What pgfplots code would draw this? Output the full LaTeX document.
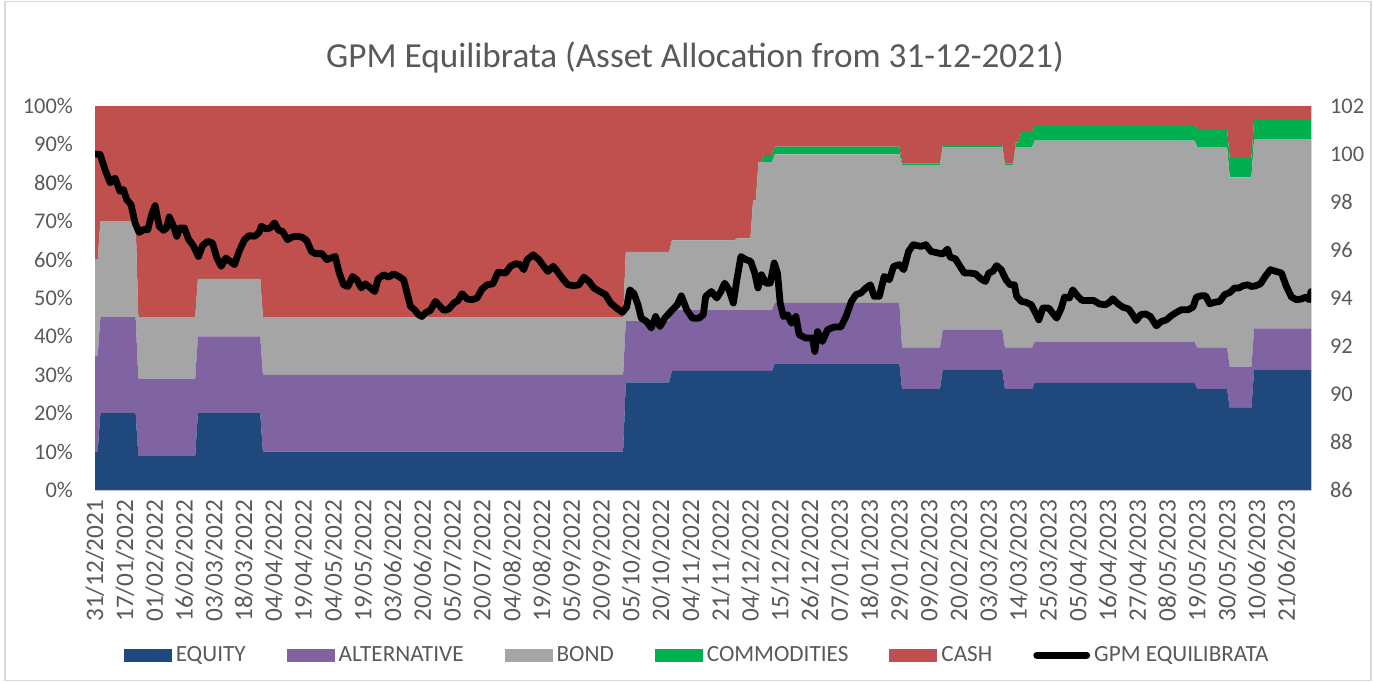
\documentclass[border=0pt]{standalone}
\usepackage{fontspec}
\setmainfont{Carlito}
\usepackage{pgfplots}
\usepackage{pgfplotstable}
\pgfplotsset{compat=1.18}
\definecolor{eqc}{RGB}{31,73,125}
\definecolor{altc}{RGB}{128,100,162}
\definecolor{bondc}{RGB}{165,165,165}
\definecolor{comc}{RGB}{0,176,80}
\definecolor{cashc}{RGB}{192,80,77}
\definecolor{txt}{RGB}{89,89,89}
\definecolor{axc}{RGB}{217,217,217}

\pgfplotstableread{
i eq alt bond com cash
0 10 25 25 0 40
1 10 25 25 0 40
2 20 25 25 0 30
15 20 25 25 0 30
16 9 20 16 0 55
37 9 20 16 0 55
38 20 20 15 0 45
61 20 20 15 0 45
62 10 20 15 0 55
195 10 20 15 0 55
196 28 16 18 0 38
212 28 16 18 0 38
213 31 16 18 0 35
236 31 16 18 0 35
237 31 16 18.5 0 34.5
242 31 16 18.5 0 34.5
243 31 16 28.5 0 24.5
244 31 16 28.5 0 24.5
245 31 16 38.4 0 14.6
246 31 16 38.4 0 14.6
247 31 16 38.4 1.8 12.8
250 31 16 38.4 1.8 12.8
251 33 15.7 38.7 2 10.6
297 33 15.7 38.7 2 10.6
298 26.3 10.7 47.6 0.4 15
312 26.3 10.7 47.6 0.4 15
313 31.3 10.4 47.6 0.5 10.2
335 31.3 10.4 47.6 0.5 10.2
336 26.3 10.7 47.6 0.4 15
339 26.3 10.7 47.6 0.4 15
340 26.3 10.7 52.3 1.2 9.5
341 26.3 10.7 52.3 1.2 9.5
342 26.3 10.7 52.3 3.9 6.8
346 26.3 10.7 52.3 3.9 6.8
347 27.9 10.7 52.4 4 5
406 27.9 10.7 52.4 4 5
407 26.3 10.7 52.3 4.7 6
418 26.3 10.7 52.3 4.7 6
419 21.4 10.7 49.3 5 13.6
427 21.4 10.7 49.3 5 13.6
428 31.25 10.85 49.3 5 3.6
449 31.25 10.85 49.3 5 3.6
}\alloc

\pgfplotstableread{
i v
0 100.0
1.9 99.98
3.7 99.35
5.6 98.80
7.4 99.00
9.2 98.45
10.5 98.52
11.7 98.10
13.3 97.89
14.8 97.13
16.3 96.73
17.9 96.85
19.5 96.85
20.9 97.47
22.2 97.85
23.7 96.99
25.3 96.82
26.5 96.92
27.4 97.38
29.0 96.99
30.2 96.57
31.4 96.92
33.0 96.92
34.5 96.46
36.3 96.18
38.2 95.73
39.7 96.18
41.6 96.36
43.4 96.29
45.0 95.67
46.6 95.32
48.3 95.67
49.9 95.53
51.5 95.39
53.2 95.94
55.2 96.43
56.9 96.60
58.9 96.57
60.6 96.73
61.4 96.99
63.1 96.88
64.7 96.92
66.3 97.13
67.8 96.82
69.2 96.78
71.1 96.43
72.7 96.54
74.5 96.57
76.4 96.54
78.2 96.39
79.9 95.94
81.3 95.85
83.8 95.85
85.6 95.60
87.3 95.67
88.7 95.73
90.2 95.04
91.8 94.55
93.4 94.48
95.1 94.90
96.7 94.76
98.3 94.42
99.8 94.59
101.7 94.42
103.3 94.27
104.5 94.79
106.6 94.97
108.4 94.87
110.3 95.01
112.1 94.90
114.0 94.76
115.2 94.21
116.5 93.65
118.0 93.51
119.5 93.30
120.7 93.23
122.2 93.40
123.8 93.48
125.7 93.86
127.2 93.68
128.8 93.48
130.6 93.54
132.5 93.79
134.1 93.90
135.5 94.18
137.4 93.96
139.2 93.93
141.1 94.00
142.9 94.37
144.8 94.55
146.9 94.59
148.8 95.07
151.6 95.04
153.4 95.32
155.3 95.43
157.1 95.39
158.3 95.18
159.6 95.60
161.8 95.80
163.9 95.60
165.7 95.32
167.2 95.11
169.2 95.32
170.7 95.11
172.5 94.83
174.6 94.55
176.8 94.51
178.7 94.55
180.5 94.87
182.4 94.69
184.2 94.42
186.4 94.27
188.5 94.14
190.4 93.79
192.6 93.58
194.7 93.40
196.3 93.62
197.5 94.34
199.0 94.18
200.5 93.72
201.7 93.16
203.7 93.02
205.4 92.75
207.0 93.23
208.6 92.81
210.4 93.16
212.6 93.44
215.0 93.72
216.5 94.09
218.5 93.51
220.6 93.16
223.0 93.16
224.6 93.30
225.5 94.07
227.6 94.27
229.6 94.00
231.1 94.27
232.5 94.62
234.1 94.34
235.7 93.79
237.0 94.76
238.5 95.73
240.3 95.60
242.1 95.53
243.6 95.04
244.8 94.42
246.1 94.97
247.7 94.62
249.3 94.62
250.8 95.46
252.0 95.04
253.0 93.79
254.2 93.23
255.7 93.30
257.2 92.95
258.8 93.23
260.0 92.47
262.5 92.33
264.9 92.33
265.8 91.77
266.8 92.60
268.6 92.19
270.5 92.68
272.9 92.79
275.4 92.79
277.3 93.23
279.3 93.86
281.0 94.14
282.8 94.21
284.7 94.42
286.3 94.55
287.7 94.07
289.6 94.07
291.4 94.90
293.3 94.76
294.9 95.32
297.0 95.39
298.6 95.18
300.4 95.94
302.1 96.22
305.0 96.15
306.8 96.22
308.7 95.94
311.1 95.88
313.0 95.83
314.8 96.04
315.7 95.71
317.7 95.63
319.4 95.32
321.0 95.04
322.9 95.04
325.1 95.01
327.2 94.79
328.8 94.69
330.0 95.04
331.5 95.11
332.9 95.35
334.6 95.18
336.4 94.76
337.9 94.55
339.5 94.55
340.3 94.07
342.0 93.86
343.8 93.82
345.7 93.72
347.3 93.37
348.5 93.09
350.0 93.58
352.2 93.58
353.6 93.37
355.1 93.16
356.8 93.58
358.0 94.04
359.8 94.00
361.0 94.34
362.9 94.07
364.5 93.90
366.6 93.90
368.7 93.90
370.9 93.75
373.1 93.72
374.6 93.82
375.8 93.97
377.7 93.76
379.5 93.62
381.7 93.54
383.2 93.30
384.5 93.06
386.0 93.30
387.9 93.34
389.7 93.23
391.9 92.84
393.7 93.02
395.6 93.09
397.4 93.26
399.3 93.40
401.1 93.51
403.6 93.51
405.4 93.62
406.7 94.04
408.5 94.09
410.1 94.09
411.6 93.76
413.4 93.82
415.3 93.86
417.1 94.14
419.0 94.23
420.8 94.42
422.4 94.42
423.9 94.51
425.7 94.55
427.0 94.48
428.6 94.51
430.3 94.59
432.3 94.93
434.0 95.18
436.0 95.11
438.1 95.04
439.9 94.48
441.8 94.04
443.6 93.93
445.5 93.96
447.1 94.04
448.3 93.93
449 94.27
}\nav

\pgfplotsset{
  common/.style={
    at={(47.5pt,96pt)}, anchor=south west,
    scale only axis, width=608pt, height=192pt,
    xmin=0, xmax=449,
    major tick length=0pt,
    tick label style={font=\fontsize{11.2}{13}\selectfont, text=txt},
  },
  boxleg/.style={legend image code/.code={\fill[##1] (0pt,-3.3pt) rectangle (24pt,3.3pt);}},
  lineleg/.style={legend image code/.code={\draw[##1] (1.5pt,0pt) -- (26.5pt,0pt);}},
}

\begin{document}
\begin{tikzpicture}
\useasboundingbox (0,0) rectangle (686.5pt,341pt);
\draw[gray!30, line width=0.6pt] (2.5pt,0.8pt) rectangle (685.5pt,340.2pt);
\node[text=txt, font=\fontsize{17.6}{20}\selectfont] at (347.5pt,312.5pt) {GPM Equilibrata (Asset Allocation from 31-12-2021)};
\begin{axis}[common,
  stack plots=y,
  ymin=0, ymax=100,
  axis line style={draw=axc},
  xtick={0,11,...,440},
  xticklabels={31/12/2021,17/01/2022,01/02/2022,16/02/2022,03/03/2022,18/03/2022,04/04/2022,19/04/2022,04/05/2022,19/05/2022,03/06/2022,20/06/2022,05/07/2022,20/07/2022,04/08/2022,19/08/2022,05/09/2022,20/09/2022,05/10/2022,20/10/2022,04/11/2022,21/11/2022,04/12/2022,15/12/2022,26/12/2022,07/01/2023,18/01/2023,29/01/2023,09/02/2023,20/02/2023,03/03/2023,14/03/2023,25/03/2023,05/04/2023,16/04/2023,27/04/2023,08/05/2023,19/05/2023,30/05/2023,10/06/2023,21/06/2023},
  xticklabel style={rotate=90, anchor=east, xshift=-1.5pt, font=\fontsize{12.6}{14}\selectfont},
  ytick={0,10,...,100},
  yticklabels={0\%,10\%,20\%,30\%,40\%,50\%,60\%,70\%,80\%,90\%,100\%},
  yticklabel style={xshift=-7.5pt},
]
\addplot[fill=eqc, draw=none] table[x=i,y=eq]{\alloc} \closedcycle;
\addplot[fill=altc, draw=none] table[x=i,y=alt]{\alloc} \closedcycle;
\addplot[fill=bondc, draw=none] table[x=i,y=bond]{\alloc} \closedcycle;
\addplot[fill=comc, draw=none] table[x=i,y=com]{\alloc} \closedcycle;
\addplot[fill=cashc, draw=none] table[x=i,y=cash]{\alloc} \closedcycle;
\end{axis}
\begin{axis}[common,
  ymin=86, ymax=102,
  axis x line=none,
  axis y line*=right,
  axis line style={draw=none},
  ytick={86,88,...,102},
  yticklabels={86,88,90,92,94,96,98,100,102},
  yticklabel style={xshift=6pt},
  legend columns=6,
  legend style={at={(0.496,-0.43)}, anchor=center, draw=none, fill=none,
    font=\fontsize{11.6}{13}\selectfont, text=txt,
    /tikz/every even column/.append style={column sep=18.5pt},
    /tikz/every odd column/.append style={column sep=0pt}},
  legend entries={EQUITY,ALTERNATIVE,BOND,COMMODITIES,CASH,GPM EQUILIBRATA},
]
\addlegendimage{fill=eqc, draw=none, boxleg}
\addlegendimage{fill=altc, draw=none, boxleg}
\addlegendimage{fill=bondc, draw=none, boxleg}
\addlegendimage{fill=comc, draw=none, boxleg}
\addlegendimage{fill=cashc, draw=none, boxleg}
\addplot[black, line width=3.4pt, line join=round, line cap=round, lineleg] table[x=i,y=v]{\nav};
\end{axis}
\end{tikzpicture}
\end{document}
